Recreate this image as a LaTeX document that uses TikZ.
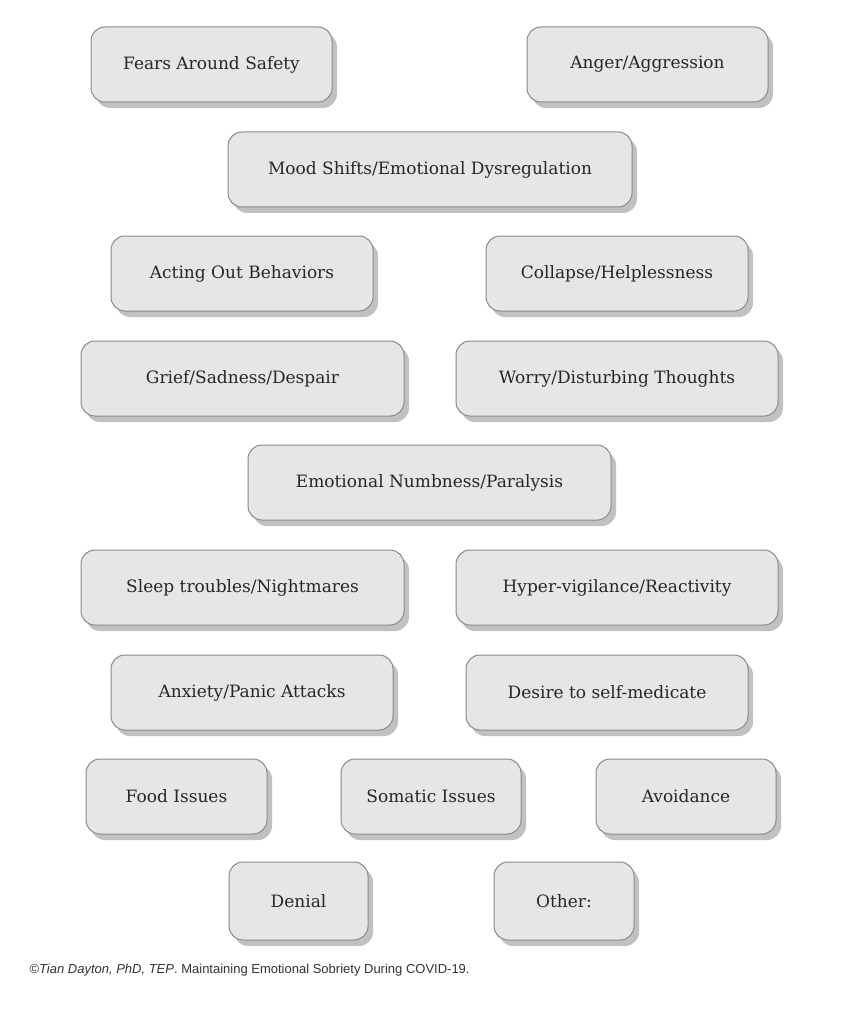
\documentclass[tikz,border=0pt]{standalone}
\usepackage{fontspec}
\setmainfont{DejaVu Serif}
\newfontfamily\footfont{Liberation Sans}
\usetikzlibrary{shadows}
\definecolor{boxfill}{HTML}{E6E6E6}
\definecolor{boxline}{HTML}{8A8A8A}
\begin{document}
\begin{tikzpicture}[x=1pt,y=-1pt,
  lbl/.style={font=\fontsize{17}{20}\selectfont, text=black!85}]
\useasboundingbox (0,0) rectangle (862,1024);
\fill[white] (0,0) rectangle (862,1024);
\def\bx#1#2#3#4#5#6{%
  \fill[black!40, rounded corners=14pt, opacity=0.6] (#2+5,#3+6) rectangle (#4+5,#5+6);
  \draw[boxline, fill=boxfill, rounded corners=14pt, line width=1pt] (#2,#3) rectangle (#4,#5);
  \node[lbl] (#1) at ({(#2+#4)/2},{(#3+#5)/2}) {#6};}
\bx{fears}{91}{27}{332}{102}{Fears Around Safety}
\bx{anger}{527}{27}{768}{102}{Anger/Aggression}
\bx{mood}{228}{132}{632}{207}{Mood Shifts/Emotional Dysregulation}
\bx{acting}{111}{236}{373}{311}{Acting Out Behaviors}
\bx{collapse}{486}{236}{748}{311}{Collapse/Helplessness}
\bx{grief}{81}{341}{404}{416}{Grief/Sadness/Despair}
\bx{worry}{456}{341}{778}{416}{Worry/Disturbing Thoughts}
\bx{numb}{248}{445}{611}{520}{Emotional Numbness/Paralysis}
\bx{sleep}{81}{550}{404}{625}{Sleep troubles/Nightmares}
\bx{hyper}{456}{550}{778}{625}{Hyper-vigilance/Reactivity}
\bx{anxiety}{111}{655}{393}{730}{Anxiety/Panic Attacks}
\bx{desire}{466}{655}{748}{730}{Desire to self-medicate}
\bx{food}{86}{759}{267}{834}{Food Issues}
\bx{somatic}{341}{759}{521}{834}{Somatic Issues}
\bx{avoid}{596}{759}{776}{834}{Avoidance}
\bx{denial}{229}{862}{368}{940}{Denial}
\bx{other}{494}{862}{634}{940}{Other:}
\node[anchor=west, font=\footfont\fontsize{13}{15}\selectfont, text=black!80] (foot) at (26,970)
  {©\textit{Tian Dayton, PhD, TEP}. Maintaining Emotional Sobriety During COVID-19.};
\end{tikzpicture}
\end{document}
